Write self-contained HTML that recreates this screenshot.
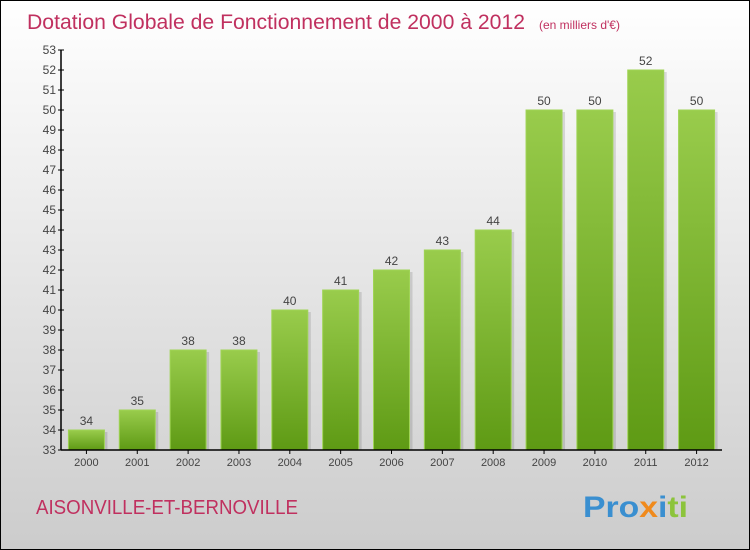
<!DOCTYPE html>
<html><head><meta charset="utf-8"><style>
body{margin:0;width:750px;height:550px;overflow:hidden;font-family:"Liberation Sans",sans-serif}
#c{position:absolute;left:0;top:0;width:748px;height:548px;border:1px solid #000;background:linear-gradient(#ffffff,#cccccc)}
</style></head><body>
<div id="c">
<svg id="s" width="750" height="550" style="position:absolute;left:-1px;top:-1px">
<defs>
<linearGradient id="g" x1="0" y1="0" x2="0" y2="1"><stop offset="0" stop-color="#99cc4c"/><stop offset="1" stop-color="#5e9a14"/></linearGradient>
</defs>
<text x="27" y="29" font-size="21" fill="#c0305f"><tspan textLength="498" lengthAdjust="spacingAndGlyphs">Dotation Globale de Fonctionnement de 2000 à 2012</tspan><tspan font-size="12" dx="14">(en milliers d'€)</tspan></text>
<text x="36" y="514" font-size="20" fill="#c0305f" textLength="262" lengthAdjust="spacingAndGlyphs">AISONVILLE-ET-BERNOVILLE</text>
<text x="583" y="517" font-size="30" font-weight="bold" textLength="105" lengthAdjust="spacingAndGlyphs"><tspan fill="#3a8fd0">Pro</tspan><tspan fill="#f08a1c">x</tspan><tspan fill="#3a8fd0">i</tspan><tspan fill="#8cc43c">ti</tspan></text>
<g id="plot"></g>
</svg></div>
<script>
const years=["2000","2001","2002","2003","2004","2005","2006","2007","2008","2009","2010","2011","2012"];
const values=[34,35,38,38,40,41,42,43,44,50,50,52,50];
const yTicks=[33,34,35,36,37,38,39,40,41,42,43,44,45,46,47,48,49,50,51,52,53];
const X0=61,X1=722,Y0=450,Y1=50,vmin=33,vmax=53;
const y=v=>Y0-(v-vmin)/(vmax-vmin)*(Y0-Y1);
const band=(X1-X0)/years.length;
const x=i=>X0+band*i+band/2;
const g=document.getElementById('plot');const NS='http://www.w3.org/2000/svg';
function mk(t,a,txt){const e=document.createElementNS(NS,t);for(const k in a)e.setAttribute(k,a[k]);if(txt!==undefined)e.textContent=txt;g.appendChild(e);return e;}
values.forEach((v,i)=>{
 const bw=36,bx=x(i)-bw/2;
 const sh=mk('rect',{x:bx+3,y:y(v)+2,width:bw,height:Y0-y(v)-2,fill:'#000',opacity:0.12});
 
 
 const r=mk('rect',{x:bx,y:y(v),width:bw,height:Y0-y(v),fill:'url(#g)',stroke:'#9fd455','stroke-width':1});
 
 
 const t=mk('text',{x:x(i),y:y(v)-5,'font-size':12,fill:'#444','text-anchor':'middle'},String(v));
 
 
 const xl=mk('text',{x:x(i),y:Y0+16,'font-size':11,fill:'#444','text-anchor':'middle'},years[i]);
 
 
 const xt=mk('line',{x1:x(i),x2:x(i),y1:Y0,y2:Y0+4,stroke:'#000'});
 
 
});
yTicks.forEach(v=>{
 const l=mk('line',{x1:X0-3,x2:X0+3,y1:y(v),y2:y(v),stroke:'#000'});
 
 
 const t=mk('text',{x:X0-5,y:y(v)+4,'font-size':12,fill:'#444','text-anchor':'end'},String(v));
 
 
});
const ya=mk('line',{x1:X0,x2:X0,y1:Y1,y2:Y0,stroke:'#000','stroke-width':1.5});


const xa=mk('line',{x1:X0,x2:X1,y1:Y0,y2:Y0,stroke:'#000','stroke-width':1.5});


</script></body></html>
